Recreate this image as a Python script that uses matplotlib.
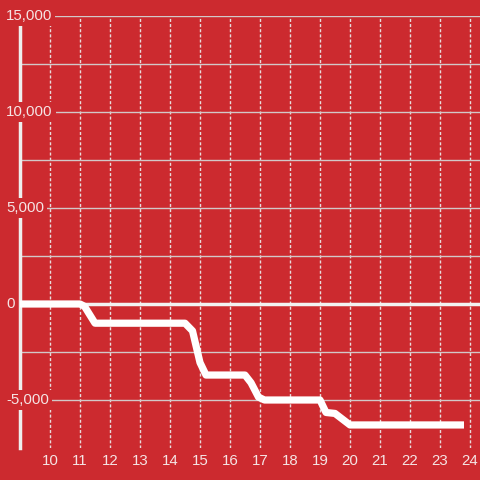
import matplotlib.pyplot as plt
import matplotlib.transforms as mtransforms

plt.rcParams.update({'font.size': 10.8, 'font.family': ['Liberation Sans', 'DejaVu Sans']})

bg = '#cc2a2f'
fg = '#f5e4e4'
grid_c = '#d2c8c8'

# data (hour of day, value)
hours = [9, 11.0, 11.15, 11.5, 14.5, 14.75, 15.0, 15.2, 16.5, 16.7, 16.95, 17.15,
         19.0, 19.2, 19.5, 19.75, 20.0, 23.8]
values = [0, 0, -120, -1000, -1000, -1400, -3050, -3700, -3700, -4100, -4850, -5000,
          -5000, -5650, -5700, -6000, -6300, -6300]

x_ticks = list(range(10, 25))
y_grid = [-5000, -2500, 0, 2500, 5000, 7500, 10000, 12500, 15000]
y_labels = [-5000, 0, 5000, 10000, 15000]

fig = plt.figure(figsize=(4.8, 4.8), dpi=100, facecolor=bg)
ax = fig.add_axes([20 / 480, 32 / 480, 460 / 480, 432 / 480])
ax.set_facecolor(bg)
ax.set_xlim(9, 9 + 460 / 30)
ax.set_ylim(-7500, 15000)

ax.set_yticks(y_grid)
ax.set_yticklabels([])
ax.set_xticks(x_ticks)
ax.set_xticklabels([str(t) for t in x_ticks], color=fg)
ax.tick_params(axis='both', length=0)
ax.tick_params(axis='x', pad=4)

ax.grid(axis='y', color=grid_c, lw=1)
ax.grid(axis='x', color='#e8dcdc', lw=1, ls=(0, (2.2, 1.5)))
ax.set_axisbelow(True)

for s in ['top', 'right', 'bottom']:
    ax.spines[s].set_visible(False)
ax.spines['left'].set_color('#eeeeee')
ax.spines['left'].set_linewidth(2.5)

ax.axhline(0, color='#f2f2f2', lw=2.5, zorder=2)
ax.plot(hours, values, color='white', lw=5.2, solid_joinstyle='round',
        solid_capstyle='butt', zorder=5, clip_on=False)

trans = mtransforms.blended_transform_factory(fig.transFigure, ax.transData)
for v in y_labels:
    ax.text(6 / 480, v, f'{v:,}', transform=trans, ha='left', va='center',
            color=fg, zorder=4, clip_on=False,
            bbox=dict(boxstyle='square,pad=0.2', fc=bg, ec='none'))

fig.savefig('out.png', dpi=100, facecolor=bg)
